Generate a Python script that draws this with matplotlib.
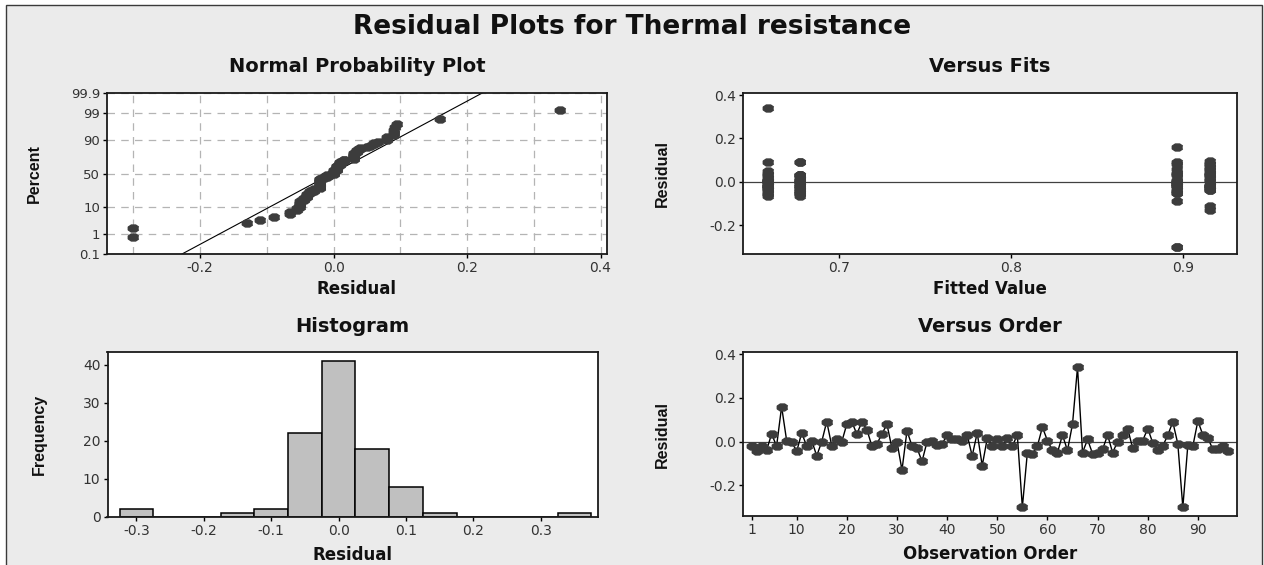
import numpy as np
import matplotlib
matplotlib.use("Agg")
import matplotlib.pyplot as plt
from matplotlib import font_manager
from matplotlib.patches import Rectangle
from matplotlib.ticker import FixedLocator, FormatStrFormatter
from statistics import NormalDist

# residuals in observation order
RESIDUALS = [
    -0.02, -0.045, -0.02, -0.04, 0.035, -0.02, 0.16, 0.005, 0.0, -0.045,
    0.04, -0.02, 0.005, -0.065, 0.0, 0.092, -0.02, 0.01, 0.0, 0.08,
    0.09, 0.035, 0.09, 0.055, -0.02, -0.01, 0.035, 0.08, -0.03, 0.0,
    -0.13, 0.05, -0.02, -0.03, -0.09, 0.0, 0.005, -0.015, -0.01, 0.03,
    0.01, 0.01, 0.005, 0.03, -0.065, 0.04, -0.11, 0.015, -0.02, 0.01,
    -0.02, 0.015, -0.02, 0.03, -0.30, -0.05, -0.055, -0.02, 0.066, 0.005,
    -0.04, -0.05, 0.03, -0.04, 0.08, 0.34, -0.05, 0.01, -0.055, -0.05,
    -0.035, 0.03, -0.05, 0.0, 0.03, 0.06, -0.03, 0.005, 0.005, 0.06,
    -0.005, -0.04, -0.02, 0.03, 0.09, -0.01, -0.30, -0.015, -0.02, 0.095,
    0.03, 0.015, -0.035, -0.035, -0.02, -0.045,
]
# four fitted levels and which one each observation belongs to
FIT_LEVELS = [0.6586, 0.6775, 0.8965, 0.9154]
FIT_GROUP = [
    0, 1, 2, 3, 0, 1, 2, 3, 0, 1, 2, 3, 0, 1, 2, 0, 3, 1, 2, 3,
    1, 2, 2, 3, 0, 1, 3, 2, 0, 1, 3, 0, 2, 3, 2, 1, 0, 3, 2, 1,
    0, 3, 2, 1, 0, 3, 3, 1, 0, 2, 1, 3, 0, 2, 2, 1, 0, 3, 3, 0,
    2, 1, 3, 0, 3, 0, 2, 1, 1, 0, 3, 1, 2, 0, 3, 2, 1, 1, 0, 3,
    2, 3, 1, 0, 1, 2, 2, 0, 3, 3, 1, 0, 1, 0, 2, 2,
]
PCT_TICKS = [0.1, 1, 10, 50, 90, 99, 99.9]
PCT_LABELS = ["0.1", "1", "10", "50", "90", "99", "99.9"]
HIST_EDGES = np.arange(-0.325, 0.376, 0.05)
ORDER_TICKS = [1, 10, 20, 30, 40, 50, 60, 70, 80, 90]

W, H = 1264, 565
BG = "#ebebeb"
DOT = "#3c3c3c"
TXT = "#333333"

plt.rcParams["font.family"] = ["DejaVu Sans"]
plt.rcParams["axes.unicode_minus"] = False

names = {f.name for f in font_manager.fontManager.ttflist}
if "Liberation Sans Narrow" in names:
    YL = dict(family=["Liberation Sans Narrow", "DejaVu Sans"], size=13.5, weight="bold")
elif "Liberation Sans" in names:
    YL = dict(family=["Liberation Sans", "DejaVu Sans"], size=11.5, weight="bold")
else:
    YL = dict(family=["DejaVu Sans"], size=10, weight="bold")

# minitab-ish flattened dot
_t = np.linspace(0, 2 * np.pi, 9)[:-1] + np.pi / 8
DOT_MARK = list(zip(1.5 * np.cos(_t), np.sin(_t)))


def box(l, r, t, b):
    return [l / W, 1 - b / H, (r - l) / W, (b - t) / H]


def style(ax):
    for s in ax.spines.values():
        s.set_color("#1a1a1a")
        s.set_linewidth(1.3)
    ax.tick_params(direction="out", length=3, width=1, colors="black",
                   labelcolor=TXT, labelsize=10, pad=2)
    ax.set_facecolor("white")


def labels(ax, title, xlab, ylab, tpad, xpad, ypad):
    bb = ax.get_position()
    hpx, wpx = bb.height * H, bb.width * W
    ax.text(0.5, 1 + tpad / hpx, title, transform=ax.transAxes, ha="center",
            va="center", fontsize=14, fontweight="bold", color="#111111")
    ax.text(0.5, -xpad / hpx, xlab, transform=ax.transAxes, ha="center",
            va="center", fontsize=12, fontweight="bold", color="#111111")
    ax.text(-ypad / wpx, 0.5, ylab, transform=ax.transAxes, ha="center",
            va="center", rotation=90, color="#111111", **YL)


fig = plt.figure(figsize=(W / 100, H / 100), dpi=100)
fig.patch.set_facecolor("white")
fig.add_artist(Rectangle((6 / W, -0.02), (1262 - 6) / W, 1 - 5 / H + 0.02,
                         transform=fig.transFigure, facecolor=BG,
                         edgecolor="#3a3a3a", linewidth=1, zorder=-1))
fig.text(0.5, 1 - 27 / H, "Residual Plots for Thermal resistance", ha="center",
         va="center", fontsize=19, fontweight="bold", color="#111111")

res = np.array(RESIDUALS)
n = len(res)
nd = NormalDist()

# --- normal probability plot
ax = fig.add_axes(box(107, 607, 93, 254))
style(ax)
xs = np.sort(res)
zs = [nd.inv_cdf((i - 0.3) / (n + 0.4)) for i in range(1, n + 1)]
zlo, zhi = nd.inv_cdf(0.001), nd.inv_cdf(0.999)
mu, sd = res.mean(), res.std(ddof=1)
ax.plot([mu + sd * zlo, mu + sd * zhi], [zlo, zhi], color="black", lw=0.8, zorder=2)
ax.plot(xs, zs, ls="none", marker=DOT_MARK, ms=7.5, color=DOT, mec=DOT, zorder=3)
ax.set_xlim(-0.3396, 0.4097)
ax.set_ylim(zlo, zhi)
ax.xaxis.set_major_locator(FixedLocator([-0.2, 0.0, 0.2, 0.4]))
ax.xaxis.set_minor_locator(FixedLocator([-0.3, -0.1, 0.1, 0.3]))
ax.xaxis.set_major_formatter(FormatStrFormatter("%.1f"))
ax.tick_params(axis="x", which="minor", length=0)
ax.set_yticks([nd.inv_cdf(p / 100) for p in PCT_TICKS])
ax.set_yticklabels(PCT_LABELS)
ax.tick_params(axis="y", labelsize=9.5)
ax.grid(True, which="both", color="#b4b4b4", lw=0.9, ls=(0, (6, 5)))
ax.set_axisbelow(True)
labels(ax, "Normal Probability Plot", "Residual", "Percent", 27, 35, 73)

# --- versus fits
ax = fig.add_axes(box(743, 1237, 93, 254))
style(ax)
fits = [FIT_LEVELS[g] for g in FIT_GROUP]
ax.axhline(0, color="#404040", lw=0.9, zorder=1)
ax.plot(fits, res, ls="none", marker=DOT_MARK, ms=7.5, color=DOT, mec=DOT, zorder=3)
ax.set_xlim(0.6443, 0.9313)
ax.set_ylim(-0.334, 0.41)
ax.set_xticks([0.7, 0.8, 0.9])
ax.set_yticks([-0.2, 0.0, 0.2, 0.4])
ax.xaxis.set_major_formatter(FormatStrFormatter("%.1f"))
ax.yaxis.set_major_formatter(FormatStrFormatter("%.1f"))
labels(ax, "Versus Fits", "Fitted Value", "Residual", 27, 35, 81)

# --- histogram
ax = fig.add_axes(box(107.5, 598, 352, 517))
style(ax)
ax.hist(res, bins=HIST_EDGES, color="#c0c0c0", edgecolor="black", linewidth=1.1)
ax.set_xlim(-0.343, 0.385)
ax.set_ylim(0, 43.4)
ax.set_xticks([-0.3, -0.2, -0.1, 0.0, 0.1, 0.2, 0.3])
ax.set_yticks([0, 10, 20, 30, 40])
ax.xaxis.set_major_formatter(FormatStrFormatter("%.1f"))
labels(ax, "Histogram", "Residual", "Frequency", 25, 38, 68)

# --- versus order
ax = fig.add_axes(box(743, 1237, 352, 516))
style(ax)
obs = np.arange(1, n + 1)
ax.axhline(0, color="#404040", lw=0.9, zorder=1)
ax.plot(obs, res, color="black", lw=1.0, marker=DOT_MARK, ms=7.5,
        mfc=DOT, mec=DOT, zorder=3)
ax.set_xlim(-0.7, 97.8)
ax.set_ylim(-0.34, 0.41)
ax.set_xticks(ORDER_TICKS)
ax.set_yticks([-0.2, 0.0, 0.2, 0.4])
ax.yaxis.set_major_formatter(FormatStrFormatter("%.1f"))
labels(ax, "Versus Order", "Observation Order", "Residual", 25, 38, 81)

fig.savefig("out.png", dpi=100)
